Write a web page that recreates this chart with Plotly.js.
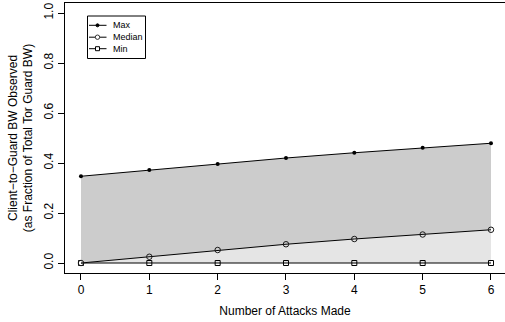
<!DOCTYPE html>
<html>
<head>
<meta charset="utf-8">
<script src="https://cdn.plot.ly/plotly-3.0.1.min.js"></script>
<style>
  html, body { margin: 0; padding: 0; background: #ffffff; }
  #chart { width: 505px; height: 322px; }
</style>
</head>
<body>
<div id="chart"></div>
<script>
// Number of attacks made (x) and the observed client-to-guard bandwidth
// as a fraction of total Tor guard bandwidth (y).
const attacks = [0, 1, 2, 3, 4, 5, 6];
const maxBW    = [0.347, 0.372, 0.396, 0.420, 0.441, 0.461, 0.479];
const medianBW = [0.000, 0.025, 0.052, 0.075, 0.096, 0.114, 0.133];
const minBW    = [0.000, 0.000, 0.000, 0.000, 0.000, 0.000, 0.000];

const xTickVals = [0, 1, 2, 3, 4, 5, 6];
const xTickText = ["0", "1", "2", "3", "4", "5", "6"];
const yTickVals = [0, 0.2, 0.4, 0.6, 0.8, 1.0];
const yTickText = ["0.0", "0.2", "0.4", "0.6", "0.8", "1.0"];

const seriesNames = ["Max", "Median", "Min"];

const FONT = "Liberation Sans, Arial, Helvetica, sans-serif";

const traces = [
  {
    x: attacks, y: minBW, name: seriesNames[2], type: "scatter", mode: "lines+markers",
    line: { color: "#000000", width: 1 },
    marker: { symbol: "square-open", size: 5, color: "#000000", line: { width: 1, color: "#000000" } },
    showlegend: false, hoverinfo: "skip"
  },
  {
    x: attacks, y: medianBW, name: seriesNames[1], type: "scatter", mode: "lines+markers",
    fill: "tonexty", fillcolor: "#e5e5e5",
    line: { color: "#000000", width: 1 },
    marker: { symbol: "circle-open", size: 5.5, color: "#1a1a1a", line: { width: 1, color: "#1a1a1a" } },
    showlegend: false, hoverinfo: "skip"
  },
  {
    x: attacks, y: maxBW, name: seriesNames[0], type: "scatter", mode: "lines+markers",
    fill: "tonexty", fillcolor: "#cccccc",
    line: { color: "#000000", width: 1 },
    marker: { symbol: "circle", size: 4, color: "#000000" },
    showlegend: false, hoverinfo: "skip"
  }
];

// Hand-built key box in the upper left of the plot area (paper coordinates).
const L = 65, T = 3, W = 440, H = 270;
const px = v => (v - L) / W;
const py = v => (T + H - v) / H;

const keyRows = [25.3, 37.2, 48.7];
const shapes = [
  { type: "rect", xref: "paper", yref: "paper",
    x0: px(87.5), x1: px(145.5), y0: py(16), y1: py(58.5),
    line: { color: "#000000", width: 1 }, fillcolor: "#ffffff", layer: "above" }
];
const annotations = [];
seriesNames.forEach((name, i) => {
  const yy = keyRows[i];
  shapes.push({ type: "line", xref: "paper", yref: "paper",
    x0: px(89), x1: px(106.5), y0: py(yy), y1: py(yy),
    line: { color: "#000000", width: 1 }, layer: "above" });
  if (i === 0) {
    shapes.push({ type: "circle", xref: "paper", yref: "paper",
      x0: px(96), x1: px(99), y0: py(yy + 1.5), y1: py(yy - 1.5),
      line: { color: "#000000", width: 1 }, fillcolor: "#000000", layer: "above" });
  } else if (i === 1) {
    shapes.push({ type: "circle", xref: "paper", yref: "paper",
      x0: px(95.3), x1: px(99.7), y0: py(yy + 2.2), y1: py(yy - 2.2),
      line: { color: "#333333", width: 1 }, fillcolor: "#ffffff", layer: "above" });
  } else {
    shapes.push({ type: "rect", xref: "paper", yref: "paper",
      x0: px(95.5), x1: px(99.5), y0: py(yy + 2), y1: py(yy - 2),
      line: { color: "#000000", width: 1 }, fillcolor: "#ffffff", layer: "above" });
  }
  annotations.push({ xref: "paper", yref: "paper", x: px(111), y: py(yy),
    xanchor: "left", yanchor: "middle", showarrow: false, text: name,
    font: { family: FONT, size: 9, color: "#000000" } });
});

const layout = {
  width: 505, height: 322,
  margin: { l: L, r: 505 - L - W, t: T, b: 322 - T - H, pad: 0 },
  paper_bgcolor: "#ffffff", plot_bgcolor: "#ffffff",
  showlegend: false,
  font: { family: FONT, size: 12, color: "#000000" },
  xaxis: {
    range: [-0.234, 6.205],
    tickmode: "array", tickvals: xTickVals, ticktext: xTickText,
    ticks: "outside", ticklen: 6, tickwidth: 1, tickcolor: "#000000",
    showline: true, linecolor: "#000000", linewidth: 1, mirror: true,
    showgrid: false, zeroline: false,
    tickfont: { family: FONT, size: 12, color: "#000000" },
    title: { text: "Number of Attacks Made", font: { family: FONT, size: 12, color: "#000000" }, standoff: 10 },
    automargin: false
  },
  yaxis: {
    range: [-0.04, 1.04],
    tickmode: "array", tickvals: yTickVals, ticktext: yTickText,
    tickangle: -90,
    ticks: "outside", ticklen: 6, tickwidth: 1, tickcolor: "#000000",
    showline: true, linecolor: "#000000", linewidth: 1, mirror: false,
    showgrid: false, zeroline: false,
    tickfont: { family: FONT, size: 12, color: "#000000" },
    title: { text: "Client\u2212to\u2212Guard BW Observed<br>(as Fraction of Total Tor Guard BW)",
             font: { family: FONT, size: 12, color: "#000000" }, standoff: 6 },
    automargin: false
  },
  shapes: shapes,
  annotations: annotations
};

Plotly.newPlot("chart", traces, layout, { displayModeBar: false, staticPlot: true });
</script>
</body>
</html>
